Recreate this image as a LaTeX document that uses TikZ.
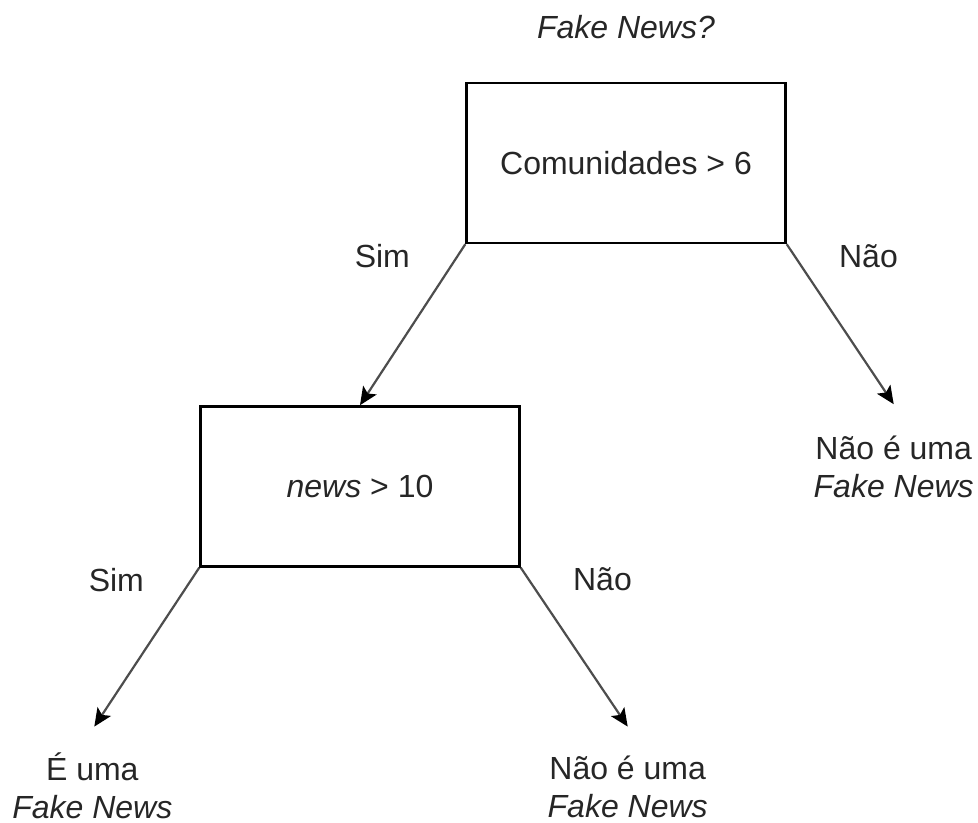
\documentclass[tikz,border=0pt]{standalone}
\usepackage{fontspec}
\setmainfont{Liberation Sans}
\usetikzlibrary{positioning,arrows.meta}

\definecolor{txtgray}{HTML}{262626}
\definecolor{arrgray}{HTML}{4D4D4D}

\tikzset{
  every node/.style={font=\fontsize{16}{20}\selectfont, text=txtgray, inner sep=0pt},
  testbox/.style={draw=black, line width=1.2pt, minimum width=159.5pt, minimum height=80pt},
  leaf/.style={align=center, font=\fontsize{16}{19}\selectfont},
  arrow/.style={draw=arrgray, line width=1.1pt, -{Stealth[length=9pt,width=8pt,inset=2pt,black]}},
}

\begin{document}
\begin{tikzpicture}

%\draw[help lines] (0,0) grid (17,-15);
\useasboundingbox (0pt,0pt) rectangle (489pt,-411.5pt);

\node[testbox] (Q1) at (313pt,-81.5pt) {Comunidades > 6};
\node[above=21.5pt of Q1] (T) {\textit{Fake News?}};
\node[testbox, below=80.5pt of Q1, xshift=-133pt] (Q2) {\textit{news} > 10};

\coordinate[below right=80pt and 53.5pt of Q1.south east] (t1);
\coordinate[below left=79.5pt and 52.5pt of Q2.south west] (t2);
\coordinate[below right=79.5pt and 53.5pt of Q2.south east] (t3);

\node[leaf, below=14pt of t1] (L1) {\strut Não é uma\\\textit{Fake News}};
\node[leaf, below=13pt of t2, xshift=-1pt] (L2) {\strut É uma\\\textit{Fake News}};
\node[leaf, below=13pt of t3] (L3) {\strut Não é uma\\\textit{Fake News}};

\node[left=27.5pt of Q1.south west, yshift=-6pt] (S1) {Sim};
\node[right=26pt of Q1.south east, yshift=-6pt] (N1) {Não};
\node[left=27.5pt of Q2.south west, yshift=-6pt] (S2) {Sim};
\node[right=26pt of Q2.south east, yshift=-6pt] (N2) {Não};

\draw[arrow] (Q1.south west) -- (Q2.north);
\draw[arrow] (Q1.south east) -- (t1);
\draw[arrow] (Q2.south west) -- (t2);
\draw[arrow] (Q2.south east) -- (t3);

\end{tikzpicture}
\end{document}
